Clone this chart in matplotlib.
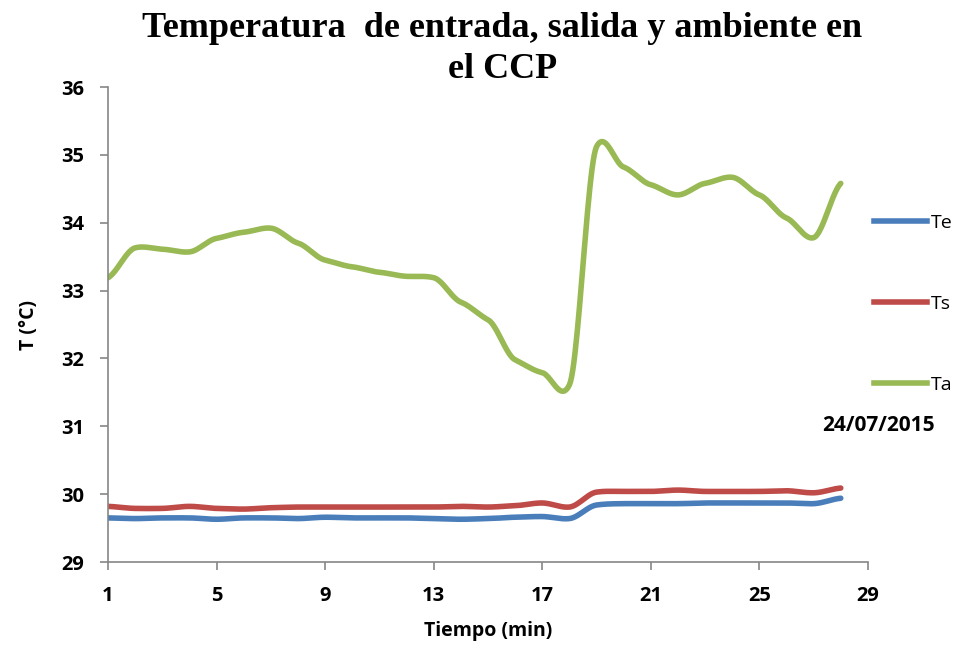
import numpy as np
import matplotlib.pyplot as plt
from matplotlib.lines import Line2D

# Minutes and measured temperatures (°C)
tiempo = list(range(1, 29))
te = [29.65, 29.64, 29.65, 29.65, 29.63, 29.65, 29.65, 29.64, 29.66, 29.65,
      29.65, 29.65, 29.64, 29.63, 29.64, 29.66, 29.67, 29.64, 29.84, 29.86,
      29.86, 29.86, 29.87, 29.87, 29.87, 29.87, 29.86, 29.94]
ts = [29.82, 29.79, 29.79, 29.82, 29.79, 29.78, 29.80, 29.81, 29.81, 29.81,
      29.81, 29.81, 29.81, 29.82, 29.81, 29.83, 29.87, 29.81, 30.03, 30.04,
      30.04, 30.06, 30.04, 30.04, 30.04, 30.05, 30.02, 30.09]
ta = [33.19, 33.63, 33.61, 33.57, 33.77, 33.86, 33.92, 33.70, 33.45, 33.35,
      33.27, 33.21, 33.19, 32.83, 32.57, 31.98, 31.79, 31.61, 35.12, 34.82,
      34.56, 34.41, 34.58, 34.67, 34.41, 34.07, 33.78, 34.58]
series = [("Te", te, "#4a7ebb"), ("Ts", ts, "#be4b48"), ("Ta", ta, "#98b954")]


def smooth(x, y, tension=0.5, n=24):
    # cardinal spline through the points (softer than plain Catmull-Rom)
    x = np.asarray(x, float)
    y = np.asarray(y, float)
    my = np.gradient(y, x) * tension
    t = np.linspace(0, 1, n, endpoint=False)
    h00 = 2 * t**3 - 3 * t**2 + 1
    h10 = t**3 - 2 * t**2 + t
    h01 = -2 * t**3 + 3 * t**2
    h11 = t**3 - t**2
    xs, ys = [], []
    for i in range(len(x) - 1):
        dx = x[i + 1] - x[i]
        xs.extend(x[i] + t * dx)
        ys.extend(h00 * y[i] + h10 * dx * my[i] + h01 * y[i + 1] + h11 * dx * my[i + 1])
    xs.append(x[-1])
    ys.append(y[-1])
    return xs, ys


sans = "Open Sans"
fig = plt.figure(figsize=(9.57, 6.48), dpi=100)
ax = fig.add_axes([0.1129, 0.1327, 0.794, 0.733])

for name, vals, color in series:
    sx, sy = smooth(tiempo, vals)
    ax.plot(sx, sy, color=color, lw=4, solid_capstyle="round")

ax.set_xlim(1, 29)
ax.set_ylim(29, 36)
ax.set_xticks(range(1, 30, 4))
ax.set_yticks(range(29, 37))

grey = "#868686"
for side in ("top", "right"):
    ax.spines[side].set_visible(False)
for side in ("left", "bottom"):
    ax.spines[side].set_color(grey)
    ax.spines[side].set_linewidth(1.2)
ax.tick_params(colors=grey, length=6, width=1.2, labelcolor="black", pad=11)
for lab in ax.get_xticklabels() + ax.get_yticklabels():
    lab.set_fontfamily(sans)
    lab.set_fontweight("bold")
    lab.set_fontsize(14.5)

ax.set_xlabel("Tiempo (min)", fontfamily=sans, fontweight="bold", fontsize=14, labelpad=11)
ax.set_ylabel("T (°C)", fontfamily=sans, fontweight="bold", fontsize=14, labelpad=16)

fig.text(0.525, 0.982, "Temperatura  de entrada, salida y ambiente en\nel CCP",
         ha="center", va="top", fontfamily="Liberation Serif", fontweight="bold",
         fontsize=26, linespacing=1.32)

# legend entries stacked down the right margin
handles = [Line2D([], [], color=c, lw=4) for _, _, c in series]
labels = [name for name, _, _ in series]
fig.legend(handles, labels, loc="upper left", bbox_to_anchor=(0.895, 0.697),
           frameon=False, handlelength=2.7, handletextpad=0.2, labelspacing=3.25,
           prop={"family": sans, "size": 14})

fig.text(0.977, 0.343, "24/07/2015", ha="right", va="center",
         fontfamily=sans, fontweight="bold", fontsize=15)

fig.savefig("out.png", dpi=100)
